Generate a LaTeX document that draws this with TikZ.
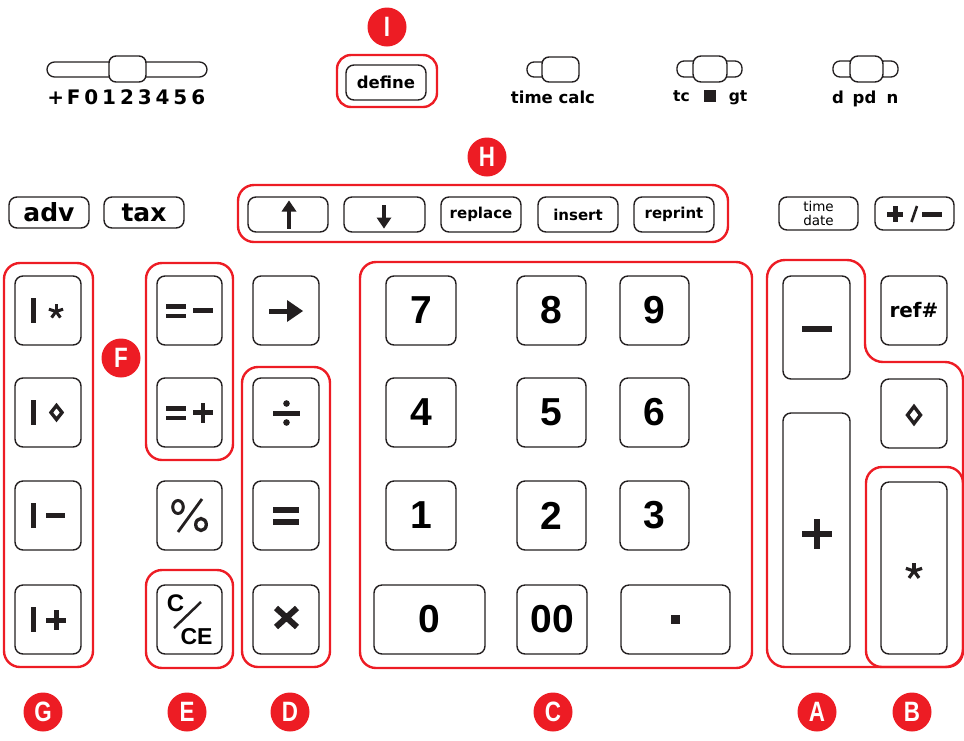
\documentclass[tikz,border=0pt]{standalone}
\usepackage{fontspec}
\setmainfont{DejaVu Sans}
\newfontfamily\numfont{Liberation Sans}
\definecolor{hl}{RGB}{237,28,36}
\definecolor{ink}{RGB}{35,31,32}
\newcommand\fsz[1]{\fontsize{#1}{#1}\selectfont}
% \keynode[options]{name}{x1}{y1}{x2}{y2}{label}
\newcommand\keynode[7][]{%
  \node[keybox, minimum width={(#5-#3)*1pt}, minimum height={(#6-#4)*1pt}, #1]
    (#2) at ({(#3+#5)/2},{(#4+#6)/2}) {#7};}
\newcommand\spreadch[1]{\makebox[17.8pt]{#1}}
\newcommand\condensed[1]{\scalebox{.8}[1]{#1}}

\tikzset{
  keybox/.style={draw=ink, line width=1.4pt, rounded corners=8pt, inner sep=0pt, fill=white},
  grp/.style={draw=hl, line width=2.4pt, rounded corners=16pt},
  badge/.style={circle, fill=hl, minimum size=39pt, inner sep=0pt, text=white,
    font=\numfont\bfseries\fsz{28}},
  slot/.style={draw=ink, line width=1.3pt, fill=white, rounded corners=7pt},
  digit/.style={font=\numfont\bfseries\fsz{39}},
  word/.style={font=\bfseries\fsz{#1}},
}

\begin{document}
\begin{tikzpicture}[x=1pt,y=-1pt]
\useasboundingbox (0,0) rectangle (964,740);

% ---- mode sliders ----
\draw[slot, rounded corners=7.5pt] (47,62) rectangle (207,77);
\node[keybox, rounded corners=7pt, minimum width=37pt, minimum height=26pt] (decknob) at (127.5,69) {};
\node[font=\bfseries\fsz{20}] (declbl) at (127,97)
  {\spreadch{+}\spreadch{F}\spreadch{0}\spreadch{1}\spreadch{2}\spreadch{3}\spreadch{4}\spreadch{5}\spreadch{6}};

\draw[slot] (527,62) rectangle (552,77);
\node[keybox, rounded corners=7pt, minimum width=37pt, minimum height=25pt] (calcknob) at (560.5,69.5) {};
\node[word=16.5] (calclbl) at (553,97) {time calc};

\draw[slot] (677,61) rectangle (700,77);
\draw[slot] (720,61) rectangle (742,77);
\node[keybox, minimum width=34pt, minimum height=26pt] (gtknob) at (710,69) {};
\node[word=15.5, anchor=base] (tclbl) at (681.5,101) {tc};
\node[fill=ink, minimum size=12pt, inner sep=0pt] (gtmark) at (710,95.5) {};
\node[word=15.5, anchor=base] (gtlbl) at (738,101) {gt};

\draw[slot] (833,61) rectangle (856,77);
\draw[slot] (877,61) rectangle (898,77);
\node[keybox, minimum width=33pt, minimum height=26pt] (dknob) at (866.5,69) {};
\node[word=16.5, anchor=base] (dlbl) at (838,103) {d};
\node[word=16.5, anchor=base] (pdlbl) at (864.5,103) {pd};
\node[word=16.5, anchor=base] (nlbl) at (892.5,103) {n};

% ---- define key ----
\draw[grp, rounded corners=14pt] (337,55) rectangle (437,107);
\keynode[word=16.5]{define}{346}{65}{426}{100}{define}
\node[badge] (badgeI) at (387,27) {\condensed{I}};

% ---- second row ----
\keynode[word=25]{adv}{9}{197}{89}{228}{adv}
\keynode[word=25]{tax}{104}{197}{184}{228}{tax}

\draw[grp] (238,185) rectangle (728,242);
\node[badge] (badgeH) at (487,157) {\condensed{H}};
\keynode{up}{248}{197}{328}{232}{}
\keynode{down}{344}{197}{425}{232}{}
\keynode[word=15]{replace}{441}{197}{521}{232}{replace}
\keynode[word=15]{insert}{538}{197}{618}{232}{insert}
\keynode[word=15]{reprint}{634}{197}{714}{232}{reprint}
\fill[ink] (287,228.5) rectangle (291,209);
\fill[ink] (281.5,211.5) -- (289,200.5) -- (296.5,211.5) -- cycle;
\fill[ink] (382,204.5) rectangle (386,220);
\fill[ink] (376.5,217.5) -- (384,228.5) -- (391.5,217.5) -- cycle;

\keynode[font=\fsz{13.5}, align=center]{timedate}{779}{197}{858}{230}{time\\[0.5pt]date}
\keynode{sign}{875}{197}{954}{230}{}
\fill[ink] (887,211.5) rectangle (903,216.5);
\fill[ink] (892.5,206) rectangle (897.5,222);
\draw[ink, line width=2.6pt] (911.5,222) -- (917,206);
\fill[ink] (922,211.5) rectangle (942,216.5);

% ---- G: subtotal/total column ----
\draw[grp] (4,263) rectangle (93,667);
\keynode{barstar}{15}{276}{81}{345}{}
\keynode{bardia}{15}{378}{81}{447}{}
\keynode{barminus}{15}{481}{81}{550}{}
\keynode{barplus}{15}{585}{81}{654}{}
\foreach \r in {310.5,412.5,515.5,619.5}
  \fill[ink] (31,\r-12.5) rectangle (36,\r+12.5);
\foreach \a in {-90,-18,54,126,198}
  \draw[ink, line width=3pt] (56,311.5) -- ++(\a:7.5);
\draw[ink, line width=3.4pt] (56.5,405.5) -- (62,412.5) -- (56.5,419.5) -- (51,412.5) -- cycle;
\fill[ink] (46,512.5) rectangle (65,517.5);
\fill[ink] (46,617.5) rectangle (66,622.5);
\fill[ink] (53.5,610) rectangle (58.5,630);

% ---- F: memory keys ----
\draw[grp] (146,263) rectangle (233,460);
\node[badge] (badgeF) at (121,358) {\condensed{F}};
\keynode{eqminus}{157}{276}{222}{345}{}
\keynode{eqplus}{157}{378}{222}{447}{}
\fill[ink] (166,304) rectangle (186,308.5);
\fill[ink] (166,313.5) rectangle (186,318);
\fill[ink] (193,308.3) rectangle (213,312.8);
\fill[ink] (166,406) rectangle (186,410.5);
\fill[ink] (166,415.5) rectangle (186,420);
\fill[ink] (193,410.3) rectangle (213,414.8);
\fill[ink] (200.75,402.5) rectangle (205.25,422.5);

% ---- percent and E: clear ----
\keynode{pct}{157}{481}{222}{550}{}
\draw[ink, line width=3pt] (178,507) ellipse [x radius=5.3pt, y radius=6.5pt];
\draw[ink, line width=2.8pt] (178,532) -- (202,499);
\draw[ink, line width=3.3pt] (201,524.5) ellipse [x radius=5.3pt, y radius=6pt];

\draw[grp] (146,570) rectangle (233,668);
\keynode{clear}{157}{585}{222}{654}{}
\node[font=\numfont\bfseries\fsz{24}] (clearC) at (175.5,603) {C};
\draw[ink, line width=2.5pt] (174,628) -- (201,602);
\node[font=\numfont\bfseries\fsz{23}] (clearCE) at (196.5,636.5) {CE};

% ---- D: operation keys ----
\keynode{shift}{253}{276}{319}{345}{}
\fill[ink] (269,308.5) rectangle (289,313.5);
\fill[ink] (287,300) -- (303,311) -- (287,322) -- cycle;
\draw[grp] (242,367) rectangle (330,667);
\keynode{divide}{253}{378}{319}{447}{}
\keynode{equal}{253}{481}{319}{550}{}
\keynode{times}{253}{585}{319}{654}{}
\fill[ink] (273,410.5) rectangle (300,415.5);
\fill[ink] (286.5,403.5) circle (3.3pt);
\fill[ink] (286.5,422.5) circle (3.3pt);
\fill[ink] (273,507) rectangle (299,513);
\fill[ink] (273,519) rectangle (299,524.5);
\draw[ink, line width=6pt] (276,608) -- (297,627) (276,627) -- (297,608);

% ---- C: number pad ----
\draw[grp] (360,262) rectangle (752,668);
\keynode[digit]{n7}{386}{276}{456}{345}{7}
\keynode[digit]{n8}{517}{276}{586}{345}{8}
\keynode[digit]{n9}{620}{276}{689}{345}{9}
\keynode[digit]{n4}{386}{378}{456}{447}{4}
\keynode[digit]{n5}{517}{378}{586}{447}{5}
\keynode[digit]{n6}{620}{378}{689}{447}{6}
\keynode[digit]{n1}{386}{481}{456}{550}{1}
\keynode[digit]{n2}{517}{481}{586}{550}{2}
\keynode[digit]{n3}{620}{481}{689}{550}{3}
\keynode[digit]{n0}{374}{585}{485}{654}{0}
\keynode[digit]{n00}{517}{585}{587}{654}{00}
\keynode{point}{621}{585}{730}{654}{}
\fill[ink] (671,615) rectangle (680,624);

% ---- A and B: add/subtract and total ----
\draw[grp, rounded corners=18pt] (767,260) -- (865,260) -- (865,362) -- (963,362)
  -- (963,667) -- (767,667) -- cycle;
\draw[grp] (866,467) rectangle (963,667);
\keynode{sub}{783}{276}{850}{379}{}
\keynode{add}{783}{413}{850}{654}{}
\keynode[word=20]{ref}{881}{276}{947}{345}{ref\#}
\keynode{dia}{881}{379}{947}{448}{}
\keynode{total}{881}{482}{947}{654}{}
\fill[ink] (802,325.5) rectangle (832,331.5);
\fill[ink] (802,531) rectangle (832,537);
\fill[ink] (814,519) rectangle (820,549);
\draw[ink, line width=3.4pt] (914,406.5) -- (920.5,415) -- (914,423.5) -- (907.5,415) -- cycle;
\foreach \a in {-90,-18,54,126,198}
  \draw[ink, line width=3.2pt] (914,571) -- ++(\a:8.5);

% ---- group badges along the bottom ----
\node[badge] (badgeG) at (43,712) {\condensed{G}};
\node[badge] (badgeE) at (187,712) {\condensed{E}};
\node[badge] (badgeD) at (290,712) {\condensed{D}};
\node[badge] (badgeC) at (553,712) {\condensed{C}};
\node[badge] (badgeA) at (817,712) {\condensed{A}};
\node[badge] (badgeB) at (912,712) {\condensed{B}};
\end{tikzpicture}
\end{document}
